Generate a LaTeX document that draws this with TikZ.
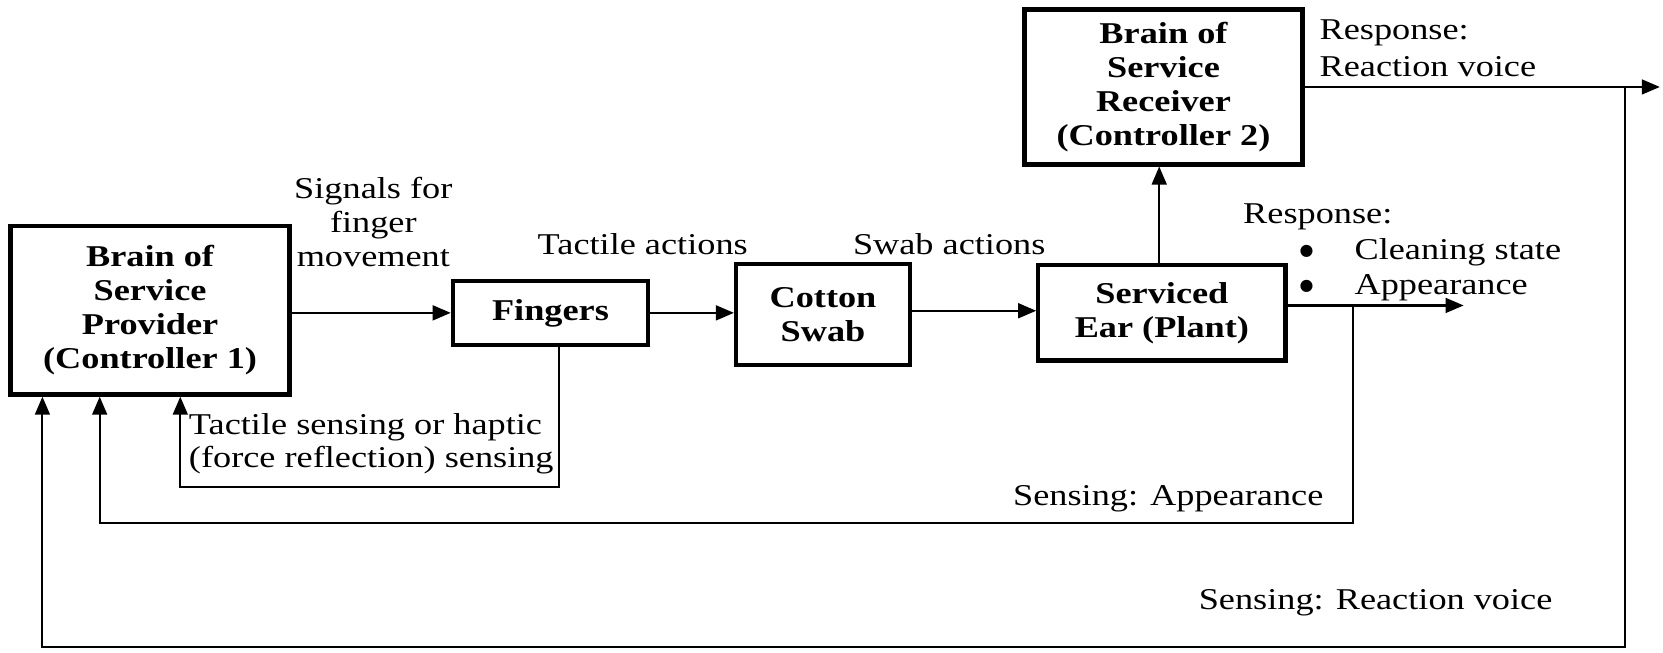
\documentclass[tikz,border=0pt]{standalone}
\usepackage{fontspec}
\setmainfont{Liberation Serif}[FakeStretch=1.2]
\newfontfamily\dotfont{DejaVu Sans}
\usetikzlibrary{arrows.meta}
\tikzset{
  blk/.style={draw, line width=4pt, inner sep=0pt, align=center,
    font=\fontsize{28.5}{32}\selectfont\bfseries},
  lbl/.style={inner sep=0pt, font=\fontsize{28.5}{32}\selectfont},
  bul/.style={inner sep=0pt, font=\dotfont\fontsize{15}{17}\selectfont},
  sig/.style={line width=2pt, -{Triangle[length=17pt,width=14pt]}},
  wire/.style={line width=2pt}
}
\begin{document}
\begin{tikzpicture}[x=1pt,y=-1pt]
\useasboundingbox (0,0) rectangle (1568,615);

% blocks
\node[blk, minimum width=263pt, minimum height=159pt] (prov) at (141.5,292.5)
  {Brain of\\Service\\Provider\\(Controller 1)};
\node[blk, minimum width=184pt, minimum height=60pt] (fing) at (519,295) {Fingers};
\node[blk, minimum width=164pt, minimum height=95pt] (swab) at (776,296.5) {Cotton\\Swab};
\node[blk, minimum width=233pt, minimum height=90pt] (ear) at (1095.5,295) {Serviced\\Ear (Plant)};
\node[blk, minimum width=262pt, minimum height=146pt] (recv) at (1097,82)
  {Brain of\\Service\\Receiver\\(Controller 2)};

% free ends and corners
\coordinate (earout) at (1380,288);
\coordinate (recvout) at (1565,82);
\coordinate (tapA) at (1276,288);
\coordinate (tapV) at (1532,82);
\coordinate (fb1) at (527,459);
\coordinate (fb1l) at (170,459);
\coordinate (fb2) at (1276,493);
\coordinate (fb2l) at (94,493);
\coordinate (fb3) at (1532,610);
\coordinate (fb3l) at (40,610);

% forward path
\draw[sig] (prov.east |- fing.west) -- (fing.west);
\draw[sig] (fing.east) -- (swab.west |- fing.east);
\draw[sig] (swab.east |- 0,293) -- (ear.west |- 0,293);
\draw[sig] (ear.north -| 1093,0) -- (recv.south -| 1093,0);
\draw[sig] (ear.east |- earout) -- (earout);
\draw[sig] (recv.east) -- (recvout);

% feedback paths
\draw[sig] (fing.south -| fb1) -- (fb1) -- (fb1l) -- (prov.south -| fb1l);
\draw[sig] (tapA) -- (fb2) -- (fb2l) -- (prov.south -| fb2l);
\draw[sig] (tapV) -- (fb3) -- (fb3l) -- (prov.south -| fb3l);

% labels
\node[lbl, align=center] (lsig) at (352,209) {Signals for\\finger\\movement};
\node[lbl] (ltact) at (606,230) {Tactile actions};
\node[lbl] (lswab) at (895,230) {Swab actions};
\node[lbl, anchor=west] (lresp) at (1172,204) {Response:};
\node[bul] (lb1) at (1232,237) {●};
\node[bul] (lb2) at (1232,270) {●};
\node[lbl, anchor=west] (lclean) at (1277,238) {Cleaning state};
\node[lbl, anchor=west] (lapp) at (1277,271) {Appearance};
\node[lbl, anchor=west] (lresp2) at (1244,31) {Response:};
\node[lbl, anchor=west] (lvoice) at (1244,63) {Reaction voice};
\node[lbl, anchor=west] (lhap1) at (178,403) {Tactile sensing or haptic};
\node[lbl, anchor=west] (lhap2) at (178,434) {(force reflection) sensing};
\node[lbl, anchor=east] (lsenA) at (1248,470) {Sensing: Appearance};
\node[lbl] (lsenV) at (1297,568) {Sensing: Reaction voice};
\end{tikzpicture}
\end{document}
